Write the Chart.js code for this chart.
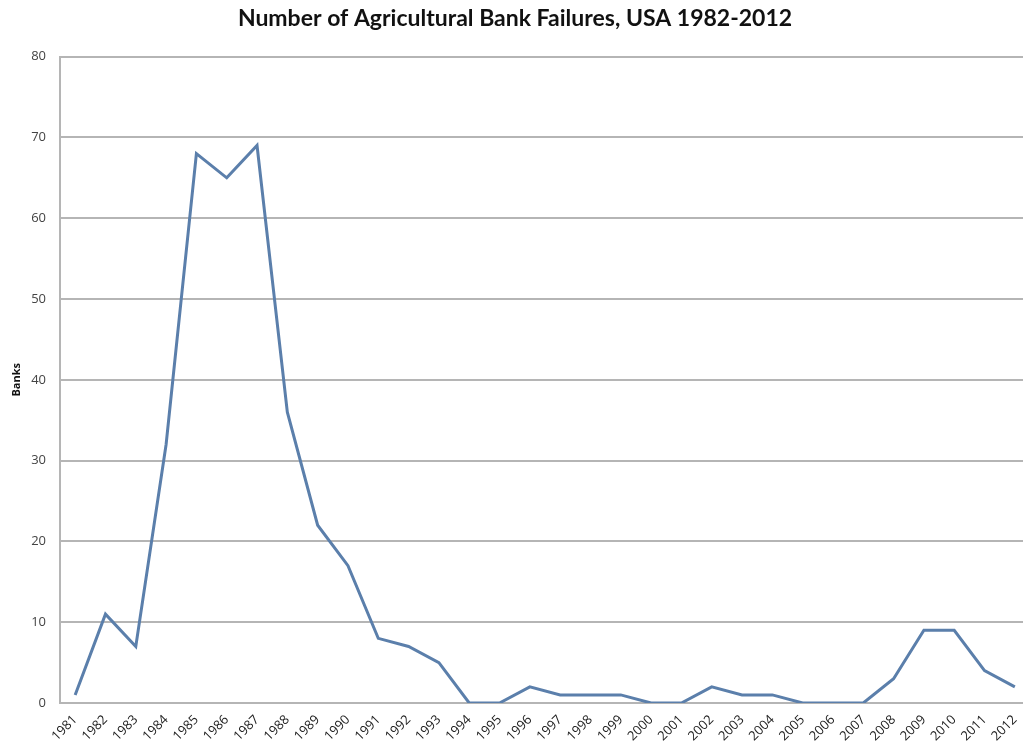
<!DOCTYPE html>
<html>
<head>
<meta charset="utf-8">
<script src="https://cdn.jsdelivr.net/npm/chart.js@4"></script>
<style>
  html, body { margin: 0; padding: 0; background: #fff; overflow: hidden; }
  #wrap { position: absolute; left: 0; top: 0; width: 1035px; height: 749px; }
</style>
</head>
<body>
<div id="wrap"><canvas id="failures"></canvas></div>
<script>
// Agricultural bank failures per year
const years = ['1981', '1982', '1983', '1984', '1985', '1986', '1987', '1988', '1989', '1990',
    '1991', '1992', '1993', '1994', '1995', '1996', '1997', '1998', '1999', '2000',
    '2001', '2002', '2003', '2004', '2005', '2006', '2007', '2008', '2009', '2010',
    '2011', '2012'];
const failures = [1, 11, 7, 32, 68, 65, 69, 36, 22, 17,
    8, 7, 5, 0, 0, 2, 1, 1, 1, 0,
    0, 2, 1, 1, 0, 0, 0, 3, 9, 9,
    4, 2];
const yTicks = [0, 10, 20, 30, 40, 50, 60, 70, 80];

const ctx = document.getElementById('failures').getContext('2d');
new Chart(ctx, {
    type: 'line',
    data: {
        labels: years,
        datasets: [{
            label: 'Banks',
            data: failures,
            borderColor: '#5b7fab',
            borderWidth: 3,
            pointRadius: 0,
            tension: 0,
            fill: false
        }]
    },
    options: {
        responsive: true,
        maintainAspectRatio: false,
        animation: false,
        layout: { padding: { left: 0, right: 5, top: 0, bottom: 0 } },
        plugins: {
            legend: { display: false },
            tooltip: { enabled: false },
            title: {
                display: true,
                text: 'Number of Agricultural Bank Failures, USA 1982-2012',
                color: '#111',
                font: { family: 'Lato', size: 23, weight: 'bold' },
                padding: { top: 5, bottom: 24 }
            }
        },
        scales: {
            x: {
                offset: true,
                grid: { display: false, drawTicks: false },
                border: { display: true, color: '#b5b5b5', width: 2 },
                ticks: {
                    color: '#222',
                    font: { family: 'Open Sans', size: 13 },
                    minRotation: 45,
                    maxRotation: 45,
                    autoSkip: false,
                    padding: 9
                },
                afterFit: (scale) => { scale.height = 46; }
            },
            y: {
                min: 0,
                max: 80,
                afterBuildTicks: (scale) => { scale.ticks = yTicks.map(v => ({ value: v })); },
                grid: { color: '#b5b5b5', lineWidth: 2, drawTicks: false },
                border: { display: true, color: '#b5b5b5', width: 2 },
                ticks: {
                    color: '#444',
                    font: { family: 'Open Sans', size: 13 },
                    padding: 14
                },
                title: {
                    display: true,
                    text: 'Banks',
                    color: '#111',
                    font: { family: 'Open Sans', size: 11, weight: 'bold' },
                    padding: { top: 10, bottom: 0 }
                },
                afterFit: (scale) => { scale.width = 60; }
            }
        }
    }
});
</script>
</body>
</html>
